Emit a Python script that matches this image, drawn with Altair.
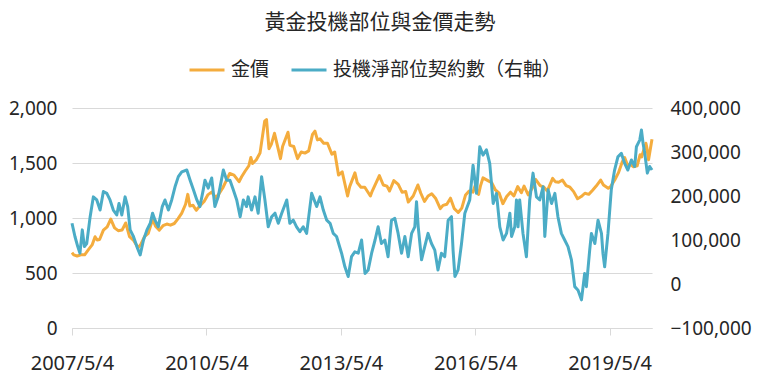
import altair as alt
import pandas as pd

# ---- data ----
gold_dates = [
    "2007-05-04", "2007-05-18", "2007-06-15", "2007-07-15", "2007-08-15", "2007-09-15", "2007-10-15",
    "2007-11-08", "2007-11-25", "2007-12-15", "2008-01-15", "2008-02-15", "2008-03-15", "2008-04-15",
    "2008-05-15", "2008-06-15", "2008-07-15", "2008-08-15", "2008-09-15", "2008-10-24", "2008-11-15",
    "2008-12-15", "2009-01-15", "2009-02-20", "2009-03-15", "2009-04-15", "2009-05-15", "2009-06-15",
    "2009-07-15", "2009-08-15", "2009-09-15", "2009-10-15", "2009-11-15", "2009-12-03", "2009-12-20",
    "2010-01-15", "2010-02-10", "2010-03-15", "2010-04-15", "2010-05-15", "2010-06-15", "2010-07-20",
    "2010-08-15", "2010-09-15", "2010-10-15", "2010-11-10", "2010-12-15", "2011-01-25", "2011-02-15",
    "2011-03-15", "2011-04-15", "2011-05-01", "2011-05-15", "2011-06-15", "2011-07-15", "2011-08-22",
    "2011-09-06", "2011-09-26", "2011-10-15", "2011-11-10", "2011-12-29", "2012-01-15", "2012-02-28",
    "2012-03-15", "2012-04-15", "2012-05-16", "2012-06-15", "2012-07-15", "2012-08-15", "2012-09-15",
    "2012-10-05", "2012-10-25", "2012-11-15", "2012-12-15", "2013-01-15", "2013-02-20", "2013-03-15",
    "2013-04-15", "2013-05-15", "2013-06-28", "2013-07-15", "2013-08-27", "2013-09-15", "2013-10-15",
    "2013-11-15", "2013-12-31", "2014-01-15", "2014-02-15", "2014-03-14", "2014-04-15", "2014-05-15",
    "2014-06-05", "2014-07-10", "2014-08-15", "2014-09-15", "2014-10-15", "2014-11-05", "2014-12-15",
    "2015-01-22", "2015-02-15", "2015-03-17", "2015-04-15", "2015-05-15", "2015-06-15", "2015-07-24",
    "2015-08-15", "2015-09-15", "2015-10-15", "2015-11-15", "2015-12-17", "2016-01-15", "2016-02-15",
    "2016-03-15", "2016-04-15", "2016-05-02", "2016-05-31", "2016-06-15", "2016-07-06", "2016-08-15",
    "2016-09-15", "2016-10-15", "2016-11-15", "2016-12-15", "2017-01-15", "2017-02-15", "2017-03-15",
    "2017-04-15", "2017-05-15", "2017-06-06", "2017-07-10", "2017-08-15", "2017-09-08", "2017-10-15",
    "2017-11-15", "2017-12-12", "2018-01-25", "2018-02-15", "2018-03-15", "2018-04-15", "2018-05-15",
    "2018-06-15", "2018-07-15", "2018-08-16", "2018-09-15", "2018-10-15", "2018-11-15", "2018-12-15",
    "2019-01-15", "2019-02-20", "2019-03-15", "2019-04-23", "2019-05-15", "2019-06-15", "2019-07-15",
    "2019-08-15", "2019-09-04", "2019-10-01", "2019-10-15", "2019-11-15", "2019-12-15", "2020-01-08",
    "2020-01-20", "2020-02-24", "2020-03-03", "2020-03-17", "2020-04-09", "2020-04-14",
]
gold_price = [
    685, 665, 655, 665, 665, 712, 755,
    830, 800, 805, 890, 920, 990, 910,
    885, 890, 955, 830, 800, 730, 760,
    830, 860, 990, 925, 890, 930, 945,
    935, 950, 995, 1045, 1125, 1215, 1110,
    1115, 1070, 1115, 1150, 1210, 1235, 1185,
    1220, 1275, 1345, 1405, 1390, 1330, 1375,
    1425, 1475, 1550, 1495, 1530, 1590, 1880,
    1895, 1630, 1670, 1770, 1540, 1650, 1780,
    1660, 1650, 1540, 1600, 1590, 1610, 1760,
    1790, 1710, 1720, 1680, 1680, 1580, 1600,
    1390, 1420, 1200, 1285, 1410, 1320, 1280,
    1280, 1200, 1245, 1320, 1385, 1300, 1290,
    1245, 1340, 1305, 1235, 1240, 1145, 1200,
    1300, 1225, 1150, 1200, 1220, 1180, 1085,
    1115, 1125, 1180, 1085, 1050, 1090, 1210,
    1245, 1235, 1290, 1215, 1290, 1365, 1340,
    1320, 1255, 1225, 1130, 1195, 1235, 1200,
    1285, 1230, 1290, 1210, 1280, 1350, 1295,
    1280, 1245, 1360, 1330, 1325, 1345, 1295,
    1280, 1240, 1175, 1195, 1225, 1215, 1250,
    1290, 1345, 1300, 1270, 1290, 1345, 1410,
    1510, 1550, 1470, 1490, 1465, 1475, 1575,
    1555, 1680, 1640, 1530, 1685, 1715,
]

pos_dates = [
    "2007-05-04", "2007-05-28", "2007-06-20", "2007-07-08", "2007-07-27", "2007-08-13", "2007-09-01",
    "2007-09-29", "2007-10-25", "2007-11-22", "2007-12-19", "2008-01-15", "2008-02-12", "2008-03-09",
    "2008-04-05", "2008-05-03", "2008-05-21", "2008-06-13", "2008-07-10", "2008-07-31", "2008-08-20",
    "2008-09-16", "2008-10-14", "2008-11-10", "2008-12-07", "2009-01-04", "2009-01-31", "2009-02-19",
    "2009-03-11", "2009-04-07", "2009-05-09", "2009-05-31", "2009-06-28", "2009-07-25", "2009-08-21",
    "2009-09-17", "2009-10-15", "2009-11-25", "2009-12-22", "2010-01-18", "2010-02-15", "2010-03-12",
    "2010-04-08", "2010-04-22", "2010-05-19", "2010-06-16", "2010-07-12", "2010-08-08", "2010-09-19",
    "2010-10-16", "2010-11-12", "2010-12-09", "2011-01-06", "2011-02-03", "2011-03-01", "2011-03-27",
    "2011-04-09", "2011-05-07", "2011-06-04", "2011-06-30", "2011-07-28", "2011-08-24", "2011-09-20",
    "2011-10-18", "2011-11-14", "2011-12-11", "2012-01-08", "2012-02-18", "2012-03-14", "2012-04-11",
    "2012-05-08", "2012-06-04", "2012-07-01", "2012-07-29", "2012-09-08", "2012-10-19", "2012-11-15",
    "2012-12-12", "2013-01-09", "2013-02-05", "2013-03-03", "2013-03-30", "2013-05-10", "2013-06-06",
    "2013-07-03", "2013-07-30", "2013-08-26", "2013-09-23", "2013-10-20", "2013-11-17", "2013-12-13",
    "2014-01-10", "2014-02-07", "2014-03-04", "2014-03-31", "2014-04-28", "2014-05-24", "2014-06-21",
    "2014-07-18", "2014-08-14", "2014-09-11", "2014-10-08", "2014-11-04", "2014-12-02", "2014-12-28",
    "2015-01-11", "2015-01-25", "2015-02-21", "2015-03-19", "2015-04-15", "2015-05-13", "2015-06-09",
    "2015-07-05", "2015-08-02", "2015-08-29", "2015-09-26", "2015-10-23", "2015-11-05", "2015-11-20",
    "2015-12-16", "2016-01-13", "2016-02-09", "2016-03-20", "2016-04-16", "2016-05-14", "2016-06-10",
    "2016-07-06", "2016-08-03", "2016-08-30", "2016-09-13", "2016-09-27", "2016-10-24", "2016-11-20",
    "2016-12-17", "2017-01-14", "2017-02-10", "2017-02-24", "2017-03-22", "2017-04-05", "2017-04-18",
    "2017-05-01", "2017-05-28", "2017-06-25", "2017-07-22", "2017-08-18", "2017-09-15", "2017-10-12",
    "2017-11-08", "2017-11-22", "2017-12-19", "2018-01-16", "2018-02-12", "2018-03-09", "2018-04-06",
    "2018-05-03", "2018-05-30", "2018-06-27", "2018-07-24", "2018-08-20", "2018-09-17", "2018-10-13",
    "2018-10-27", "2018-11-23", "2018-12-07", "2019-01-04", "2019-01-30", "2019-02-27", "2019-03-11",
    "2019-03-25", "2019-04-21", "2019-05-18", "2019-06-14", "2019-07-11", "2019-08-08", "2019-09-04",
    "2019-09-30", "2019-10-29", "2019-11-25", "2019-12-09", "2020-01-05", "2020-01-19", "2020-02-01",
    "2020-02-15", "2020-03-07", "2020-03-26", "2020-04-14",
]
pos_contracts = [
    138000, 108000, 85000, 70000, 123000, 85000, 92000,
    153000, 198000, 191000, 168000, 210000, 206000, 191000,
    168000, 157000, 183000, 157000, 198000, 176000, 123000,
    108000, 85000, 66000, 100000, 123000, 138000, 161000,
    145000, 130000, 176000, 191000, 168000, 191000, 221000,
    244000, 255000, 259000, 236000, 214000, 191000, 176000,
    214000, 236000, 218000, 241000, 176000, 198000, 259000,
    236000, 236000, 214000, 191000, 153000, 191000, 176000,
    198000, 168000, 198000, 161000, 244000, 191000, 130000,
    153000, 161000, 138000, 161000, 191000, 138000, 145000,
    130000, 119000, 130000, 115000, 206000, 176000, 198000,
    168000, 145000, 138000, 115000, 108000, 70000, 39000,
    17000, 62000, 73000, 70000, 100000, 24000, 32000,
    70000, 100000, 130000, 92000, 100000, 62000, 145000,
    149000, 115000, 70000, 108000, 62000, 115000, 130000,
    187000, 130000, 55000, 85000, 115000, 92000, 77000,
    32000, 70000, 62000, 145000, 153000, 77000, 17000,
    32000, 92000, 161000, 191000, 270000, 206000, 312000,
    293000, 305000, 274000, 229000, 183000, 206000, 130000,
    100000, 115000, 161000, 108000, 130000, 191000, 130000,
    191000, 115000, 62000, 191000, 252000, 198000, 191000,
    221000, 108000, 214000, 183000, 206000, 153000, 115000,
    100000, 85000, 55000, -6000, -14000, -36000, 24000,
    -6000, 77000, 115000, 92000, 145000, 115000, 70000,
    39000, 115000, 214000, 259000, 289000, 297000, 274000,
    259000, 282000, 267000, 312000, 327000, 350000, 320000,
    297000, 252000, 267000, 259000,
]

series_names = ["金價", "投機淨部位契約數（右軸）"]
series_colors = ["#F4AC3D", "#4BACC6"]
x_tick_dates = [(2007, 5, 4), (2010, 5, 4), (2013, 5, 4), (2016, 5, 4), (2019, 5, 4)]
left_ticks = [0, 500, 1000, 1500, 2000]
right_ticks = [-100000, 0, 100000, 200000, 300000, 400000]

gold_df = pd.DataFrame({"date": gold_dates, "value": gold_price, "series": series_names[0]})
pos_df = pd.DataFrame({"date": pos_dates, "value": pos_contracts, "series": series_names[1]})

LABEL_FONT = "Noto Sans"
CJK_FONT = "Noto Sans CJK TC"
TEXT_COLOR = "#262626"
GRID = "#d9d9d9"

x_enc = alt.X(
    "date:T",
    scale=alt.Scale(
        type="utc",
        domain=[alt.DateTime(year=2007, month=5, date=4, utc=True),
                alt.DateTime(year=2020, month=4, date=14, utc=True)],
    ),
    axis=alt.Axis(
        values=[alt.DateTime(year=y, month=m, date=d, utc=True) for (y, m, d) in x_tick_dates],
        labelExpr="utcFormat(datum.value, '%Y/%-m/%-d')",
        title=None, grid=False, domainColor=GRID, tickColor=GRID, tickSize=7,
        labelPadding=18, labelFont=LABEL_FONT, labelFontSize=20, labelColor=TEXT_COLOR,
        labelFlush=False, labelOverlap=False,
    ),
)

color_enc = alt.Color(
    "series:N",
    scale=alt.Scale(domain=series_names, range=series_colors),
    legend=alt.Legend(
        title=None, orient="none", legendX=116, legendY=-57, direction="horizontal",
        symbolType="stroke", symbolSize=1225, symbolStrokeWidth=3,
        labelFont=CJK_FONT, labelFontSize=19, labelColor=TEXT_COLOR, labelLimit=400,
        columnPadding=15, labelOffset=5, padding=0,
    ),
)

gold_line = alt.Chart(gold_df).mark_line(strokeWidth=3, strokeJoin="round").encode(
    x=x_enc,
    y=alt.Y(
        "value:Q",
        scale=alt.Scale(domain=[0, 2000], nice=False, zero=False),
        axis=alt.Axis(
            orient="left", values=left_ticks, format=",.0f", title=None, grid=True, gridColor=GRID,
            domain=False, ticks=False, labelPadding=15, labelFont=LABEL_FONT, labelFontSize=19,
            labelColor=TEXT_COLOR,
        ),
    ),
    color=color_enc,
)

pos_line = alt.Chart(pos_df).mark_line(strokeWidth=3, strokeJoin="round").encode(
    x=x_enc,
    y=alt.Y(
        "value:Q",
        scale=alt.Scale(domain=[-100000, 400000], nice=False, zero=False),
        axis=alt.Axis(
            orient="right", values=right_ticks, format=",.0f", title=None, grid=False,
            domain=False, ticks=False, labelPadding=18, labelFont=LABEL_FONT, labelFontSize=19,
            labelColor=TEXT_COLOR,
        ),
    ),
    color=color_enc,
)

chart = (
    alt.layer(gold_line, pos_line)
    .resolve_scale(y="independent")
    .properties(
        width=580,
        height=220,
        title=alt.TitleParams(
            text="黃金投機部位與金價走勢", font=CJK_FONT, fontSize=21, fontWeight="normal",
            color=TEXT_COLOR, anchor="middle", dx=18, offset=18,
        ),
        autosize=alt.AutoSizeParams(type="none"),
        padding={"left": 64, "top": 100, "right": 100, "bottom": 50},
    )
    .configure_view(stroke=None)
)

chart.save("out.html", embed_options={"renderer": "svg", "actions": False})
